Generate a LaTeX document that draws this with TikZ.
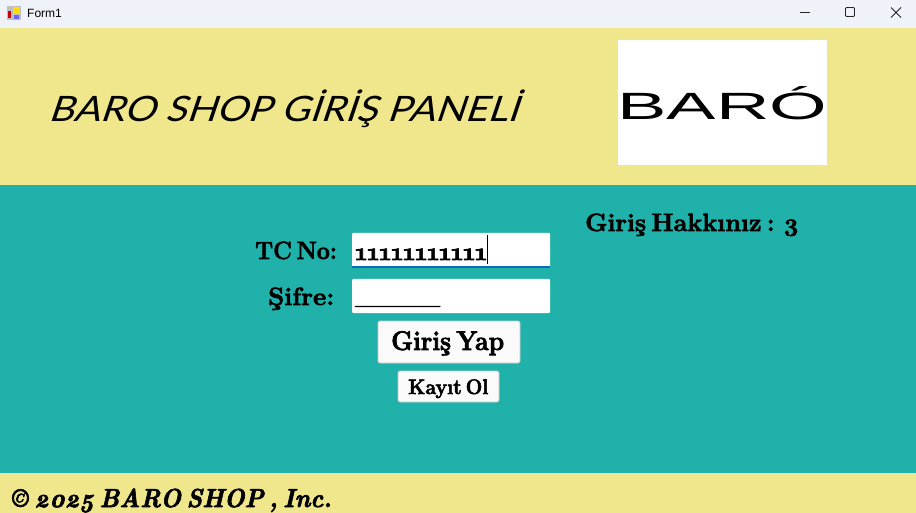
\documentclass[tikz,border=0pt]{standalone}
\usepackage{fontspec}
\setmainfont{Latin Modern Roman}[Numbers=OldStyle,WordSpace=0.55,BoldFeatures={FakeBold=2.6},BoldItalicFeatures={FakeBold=2.6}]
\newfontfamily\handfont{Lato}[FakeSlant=0.3]
\newfontfamily\logofont{Liberation Sans}
\definecolor{khakiback}{HTML}{F0E68C}
\definecolor{tealback}{HTML}{20B2AA}
\definecolor{titleback}{HTML}{F0F2F9}
\definecolor{focusblue}{HTML}{0A6CB8}
\begin{document}
\begin{tikzpicture}[
    x=1pt,y=-1pt,
    band/.style={fill=#1,draw=none},
    lbl/.style={inner sep=0pt,anchor=base west,font=\bfseries\fontsize{25}{25}\selectfont},
    field/.style={fill=white,draw=none,rounded corners=1pt},
    btn/.style={fill=white!98!black,draw=black!22,line width=0.8pt,rounded corners=2pt,inner sep=0pt},
    winbtn/.style={line width=0.8pt,black!85}
    ]
    \useasboundingbox (0,0) rectangle (916,513);

    % background bands:
    \fill[band=titleback] (0,0) rectangle (916,28);
    \fill[band=khakiback] (0,28) rectangle (916,185);
    \fill[band=tealback] (0,185) rectangle (916,473);
    \fill[band=khakiback] (0,473) rectangle (916,513);

    % title bar:
    \fill[black!25] (7,6) rectangle (21,20);
    \fill[red!80!black] (8,11) rectangle (11,18);
    \fill[yellow!80!orange] (13,7) rectangle (20,14);
    \fill[blue!60] (14,15) rectangle (19,19);
    \node(formtitle) at (27,18) [inner sep=0pt,anchor=base west,font=\logofont\fontsize{12}{12}\selectfont] {Form1};
    \draw[winbtn] (800,12.5) -- (810,12.5);
    \draw[winbtn,rounded corners=1pt] (845.5,7.5) rectangle (854.5,16.5);
    \draw[winbtn] (891,7.5) -- (901,17.5) (901,7.5) -- (891,17.5);

    % header:
    \node(paneltitle) at (48,122) [lbl,font=\handfont\fontsize{35}{35}\selectfont,xscale=1.115] {BARO SHOP GİRİŞ PANELİ};
    \node(logobox) at (722.5,102.5) [fill=white,minimum width=209pt,minimum height=125pt,inner sep=0pt] {};
    \node(logotext) at (logobox.center) [inner sep=0pt,yshift=-1pt,xscale=1.95,font=\logofont\fontsize{38}{38}\selectfont] {BARÓ};

    % login form:
    \node(attempts) at (585,231) [lbl,xscale=1.01] {Giriş Hakkınız : 3};
    \node(tclabel) at (255,259) [lbl,xscale=0.92] {TC No:};
    \node(pwlabel) at (268,305) [lbl,xscale=1.03] {Şifre:};
    \node(tcbox) at (451,250.5) [field,minimum width=198pt,minimum height=35pt,inner sep=0pt] {};
    \fill[focusblue] (tcbox.south west) rectangle ([yshift=2.5pt]tcbox.south east);
    \node(pwbox) at (451,296) [field,minimum width=198pt,minimum height=34pt,inner sep=0pt] {};
    \node(tcvalue) at (355,260) [lbl,font=\bfseries\fontsize{25}{25}\selectfont] {11111111111};
    \coordinate (caret) at (487,235);
    \draw[line width=0.8pt] (caret) -- ++(0,29);
    \node(pwvalue) at (355,304) [lbl,font=\bfseries\fontsize{20}{20}\selectfont] {\_\_\_\_\_};
    \node(loginbtn) at (449,342) [btn,minimum width=142pt,minimum height=42pt] {};
    \node(logintext) at (391,350) [lbl,font=\bfseries\fontsize{27}{27}\selectfont,xscale=0.92] {Giriş Yap};
    \node(signupbtn) at (448.5,386.5) [btn,minimum width=101pt,minimum height=31pt] {};
    \node(signuptext) at (408,394) [lbl,font=\bfseries\fontsize{21}{21}\selectfont,xscale=0.93] {Kayıt Ol};

    % footer:
    \node(copyright) at (12,507) [lbl,font=\bfseries\itshape\fontsize{26}{26}\selectfont,xscale=0.93] {© 2025 BARO SHOP , Inc.};

  \end{tikzpicture}
\end{document}
